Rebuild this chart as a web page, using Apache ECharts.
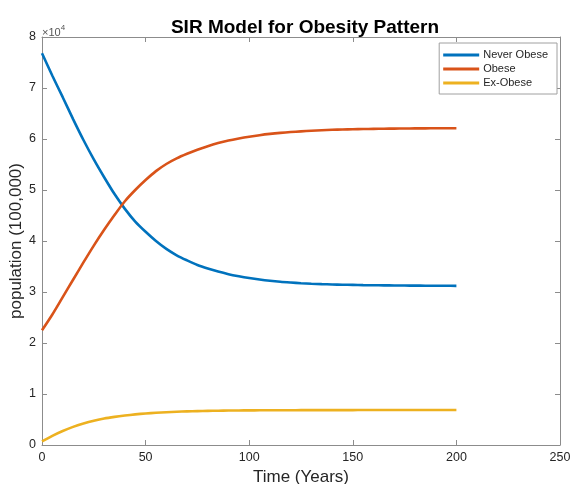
<!DOCTYPE html>
<html>
<head>
<meta charset="utf-8">
<script src="https://cdn.jsdelivr.net/npm/echarts@6/dist/echarts.min.js"></script>
<style>
  html, body { margin: 0; padding: 0; background: #fff; }
  #chart { width: 571px; height: 484px; }
</style>
</head>
<body>
<div id="chart"></div>
<script>
// Time points (years)
const years = [0, 5, 10, 15, 20, 25, 30, 35, 40, 45, 50, 55, 60, 65, 70, 75, 80, 85, 90, 95, 100,
               105, 110, 115, 120, 125, 130, 135, 140, 145, 150, 155, 160, 165, 170, 175, 180,
               185, 190, 195, 200];

// Population in each group
const neverObese = [76800, 72400, 68200, 63900, 59800, 56000, 52500, 49200, 46300, 43800, 41800,
                    40000, 38450, 37200, 36200, 35300, 34600, 34000, 33500, 33100, 32750,
                    32450, 32200, 32000, 31850, 31720, 31620, 31540, 31480, 31430, 31390,
                    31350, 31320, 31300, 31280, 31260, 31250, 31240, 31230, 31220, 31210];
const obese = [22500, 25600, 29000, 32400, 35800, 39100, 42200, 45100, 47800, 50000, 51950,
               53700, 55100, 56200, 57100, 57900, 58600, 59200, 59700, 60100, 60450,
               60750, 61000, 61200, 61360, 61500, 61620, 61720, 61800, 61860, 61910,
               61950, 61990, 62020, 62040, 62060, 62080, 62090, 62100, 62110, 62120];
const exObese = [700, 1800, 2750, 3550, 4200, 4750, 5200, 5520, 5780, 6000, 6180,
                 6320, 6430, 6520, 6590, 6650, 6690, 6720, 6750, 6770, 6790,
                 6800, 6810, 6818, 6825, 6830, 6835, 6839, 6842, 6845, 6847,
                 6849, 6850, 6852, 6853, 6854, 6855, 6855, 6856, 6856, 6856];

const seriesNames = ['Never Obese', 'Obese', 'Ex-Obese'];
const xTicks = [0, 50, 100, 150, 200, 250];
const yTicks = [0, 1, 2, 3, 4, 5, 6, 7, 8];

const pairs = arr => years.map((t, i) => [t, arr[i]]);

const axisGray = '#8c8c8c';
const textDark = '#262626';
const font = '"Liberation Sans", Arial, sans-serif';

const chart = echarts.init(document.getElementById('chart'));

const lineSeries = (name, data, color) => ({
  name: name,
  type: 'line',
  data: pairs(data),
  smooth: 0.3,
  symbol: 'none',
  lineStyle: { color: color, width: 2.6 },
  itemStyle: { color: color },
  xAxisIndex: 0,
  yAxisIndex: 0,
  z: 3
});

const tickStyle = { show: true, inside: true, length: 5, lineStyle: { color: axisGray } };
const lineStyleAxis = { show: true, onZero: false, lineStyle: { color: axisGray, width: 1 } };

chart.setOption({
  animation: false,
  backgroundColor: '#fff',
  title: {
    text: 'SIR Model for Obesity Pattern',
    left: 300,
    textAlign: 'center',
    top: 13,
    textStyle: { fontFamily: font, fontSize: 19, fontWeight: 'bold', color: '#000' }
  },
  legend: {
    data: seriesNames,
    orient: 'vertical',
    right: 14,
    top: 43,
    icon: 'rect',
    itemWidth: 36,
    itemHeight: 3,
    itemGap: 2,
    padding: [6, 9, 5, 4],
    borderColor: '#a0a0a0',
    borderWidth: 1,
    backgroundColor: '#fff',
    textStyle: { fontFamily: font, fontSize: 11, lineHeight: 12, color: textDark, padding: [0, 0, 0, -1] }
  },
  grid: { left: 42, right: 11, top: 37, bottom: 39, containLabel: false, outerBoundsMode: 'none' },
  xAxis: [
    {
      type: 'value', min: 0, max: 250, interval: 50,
      name: 'Time (Years)', nameLocation: 'middle', nameGap: 24, nameMoveOverlap: false,
      nameTextStyle: { fontFamily: font, fontSize: 17, color: textDark },
      axisLine: lineStyleAxis,
      axisTick: tickStyle,
      axisLabel: { fontFamily: font, fontSize: 12.5, color: textDark, margin: 6,
                   formatter: v => xTicks.includes(v) ? String(v) : '' },
      splitLine: { show: false }
    },
    {
      type: 'value', min: 0, max: 250, interval: 50, position: 'top',
      axisLine: lineStyleAxis,
      axisTick: tickStyle,
      axisLabel: { show: false },
      splitLine: { show: false }
    }
  ],
  yAxis: [
    {
      type: 'value', min: 0, max: 80000, interval: 10000,
      name: 'population (100,000)', nameLocation: 'middle', nameGap: 17, nameMoveOverlap: false,
      nameTextStyle: { fontFamily: font, fontSize: 17, color: textDark },
      axisLine: lineStyleAxis,
      axisTick: tickStyle,
      axisLabel: { fontFamily: font, fontSize: 12.5, color: textDark, margin: 6,
                   formatter: v => { const k = v / 10000; return yTicks.includes(k) ? String(k) : ''; } },
      splitLine: { show: false }
    },
    {
      type: 'value', min: 0, max: 80000, interval: 10000, position: 'right',
      axisLine: lineStyleAxis,
      axisTick: tickStyle,
      axisLabel: { show: false },
      splitLine: { show: false }
    }
  ],
  graphic: [
    {
      type: 'text',
      left: 42,
      top: 24,
      style: {
        text: '{a|×10}{b|4}',
        rich: {
          a: { fontFamily: font, fontSize: 11, fill: '#555', verticalAlign: 'bottom' },
          b: { fontFamily: font, fontSize: 8, fill: '#555', verticalAlign: 'top', padding: [0, 0, 6, 0] }
        }
      }
    }
  ],
  series: [
    lineSeries(seriesNames[0], neverObese, '#0072BD'),
    lineSeries(seriesNames[1], obese, '#D95319'),
    lineSeries(seriesNames[2], exObese, '#EDB120')
  ]
});
</script>
</body>
</html>
